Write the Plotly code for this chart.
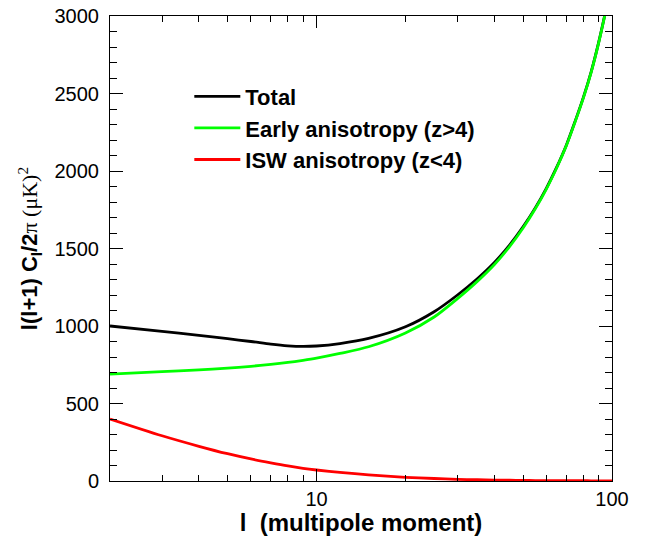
import plotly.graph_objects as go
import math

ell = [2, 3, 4, 5, 6, 7, 8, 9, 10, 12, 15, 20, 25, 30, 35, 40, 45, 50, 55, 60, 65, 70, 75, 80, 85, 90, 95, 100]
total = [1000, 966, 940, 918, 900, 883, 872, 868, 871, 887, 920, 995, 1092, 1200, 1305, 1410, 1522, 1640,
         1762, 1890, 2025, 2165, 2320, 2475, 2640, 2825, 3025, 3230]
early = [690, 706, 717, 728, 740, 752, 765, 779, 793, 823, 866, 955, 1058, 1177, 1288, 1397, 1512, 1632,
         1756, 1885, 2021, 2162, 2317, 2472, 2637, 2822, 3022, 3227]
isw = [400, 292, 224, 176, 142, 117, 97, 82, 71, 55, 39, 24, 16, 11, 8, 6, 5, 4, 3, 3, 2, 2, 2, 2, 1, 1, 1, 1]

names = ["Total", "Early anisotropy (z>4)", "ISW anisotropy (z<4)"]
colors = ["#000000", "#00ff00", "#ff0000"]

x_major = [10, 100]
x_minor = [3, 4, 5, 6, 7, 8, 9, 20, 30, 40, 50, 60, 70, 80, 90]
y_major = [0, 500, 1000, 1500, 2000, 2500, 3000]
y_minor = list(range(100, 3000, 100))

FONT = "Liberation Sans, Arial, sans-serif"

fig = go.Figure()
for name, ys, c in zip(names, [total, early, isw], colors):
    fig.add_trace(go.Scatter(x=ell, y=ys, mode="lines", name=name,
                             line=dict(color=c, width=2.8, shape="spline", smoothing=0.8)))

fig.update_layout(
    width=653, height=536,
    margin=dict(l=110, r=41, t=16, b=55),
    paper_bgcolor="white", plot_bgcolor="white",
    font=dict(family=FONT, size=20, color="black"),
    showlegend=True,
    legend=dict(x=0.158, y=0.872, xanchor="left", yanchor="top",
                bgcolor="rgba(0,0,0,0)", font=dict(size=22, family=FONT, weight="bold"),
                itemwidth=46, tracegroupgap=0),
    xaxis=dict(type="log", range=[math.log10(2), 2], automargin=False,
               showline=True, linecolor="black", linewidth=1, mirror="ticks",
               ticks="inside", ticklen=12, tickcolor="black",
               tickvals=x_major, ticktext=[str(v) for v in x_major],
               showgrid=False, zeroline=False,
               minor=dict(tickvals=x_minor, ticks="inside", ticklen=6, tickcolor="black", showgrid=False),
               title=dict(text="<b>l  (multipole moment)</b>", font=dict(size=24), standoff=1)),
    yaxis=dict(range=[0, 3000], automargin=False,
               showline=True, linecolor="black", linewidth=1, mirror="ticks",
               ticks="inside", ticklen=13, tickcolor="black",
               tickvals=y_major, ticktext=[str(v) for v in y_major],
               showgrid=False, zeroline=False, ticklabelstandoff=6,
               minor=dict(tickvals=y_minor, ticks="inside", ticklen=7, tickcolor="black", showgrid=False),
               title=dict(text="<b>l(l+1) C<sub>l</sub>/2</b><span style=\"font-family:'Liberation Serif',serif\">π (μK)<sup>2</sup></span>",
                          font=dict(size=22), standoff=10)),
)

fig.write_html("out.html")
